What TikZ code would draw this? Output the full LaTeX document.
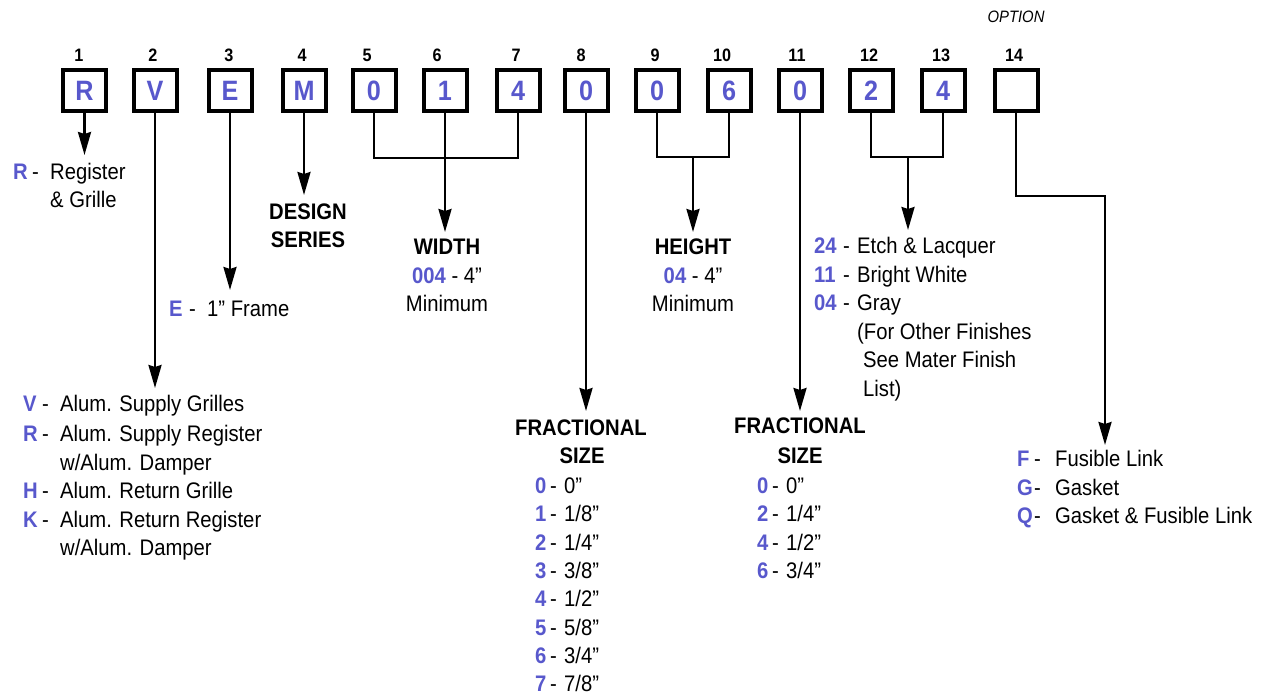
\documentclass[tikz,border=0pt]{standalone}
\usepackage{fontspec}
\setmainfont{Liberation Sans}[FakeStretch=0.9]
\usetikzlibrary{arrows.meta}
\definecolor{codeblue}{RGB}{88,88,204}
\newcommand\mainsz{\fontsize{22.5}{28}\selectfont}
\newcommand\cd[1]{\textcolor{codeblue}{\bfseries #1}}
\newcommand\itm[4]{\makebox[#1][l]{\cd{#2}}\makebox[#3][l]{-}#4}
\begin{document}
\begin{tikzpicture}[x=1pt,y=-1pt,
  txt/.style={font=\mainsz, inner sep=0pt, anchor=base west},
  ctxt/.style={font=\mainsz, inner sep=0pt, anchor=base},
  codebox/.style={draw, line width=4pt, minimum width=43pt, minimum height=41pt, inner sep=0pt,
    font=\fontsize{28}{30}\selectfont\bfseries, text=codeblue},
  numlbl/.style={font=\fontsize{18}{20}\selectfont\bfseries, inner sep=0pt, anchor=base},
  conn/.style={line width=2.5pt},
  arr/.style={line width=2.5pt, -{Stealth[length=23pt,width=13pt,inset=2pt]}}]
\useasboundingbox (0,0) rectangle (1265,698);

% option label
\node[font=\fontsize{16.5}{18}\selectfont\itshape, inner sep=0pt, anchor=base] (opt) at (1016,23) {OPTION};

% boxes
\node[codebox] (b1) at (84.5,90.5) {R};
\node[codebox] (b2) at (155,90.5) {V};
\node[codebox] (b3) at (230,90.5) {E};
\node[codebox] (b4) at (304,90.5) {M};
\node[codebox] (b5) at (374,90.5) {0};
\node[codebox] (b6) at (445,90.5) {1};
\node[codebox] (b7) at (518,90.5) {4};
\node[codebox] (b8) at (586,90.5) {0};
\node[codebox] (b9) at (657,90.5) {0};
\node[codebox] (b10) at (729,90.5) {6};
\node[codebox] (b11) at (800,90.5) {0};
\node[codebox] (b12) at (871,90.5) {2};
\node[codebox] (b13) at (943,90.5) {4};
\node[codebox] (b14) at (1016,90.5) {};

% position numbers
\node[numlbl] (n1) at (79,62) {1};
\node[numlbl] (n2) at (153,62) {2};
\node[numlbl] (n3) at (229,62) {3};
\node[numlbl] (n4) at (302,62) {4};
\node[numlbl] (n5) at (367,62) {5};
\node[numlbl] (n6) at (437,62) {6};
\node[numlbl] (n7) at (516,62) {7};
\node[numlbl] (n8) at (581,62) {8};
\node[numlbl] (n9) at (655,62) {9};
\node[numlbl] (n10) at (722,62) {10};
\node[numlbl] (n11) at (797,62) {11};
\node[numlbl] (n12) at (869,62) {12};
\node[numlbl] (n13) at (941,62) {13};
\node[numlbl] (n14) at (1014,62) {14};

% connector coordinates
\coordinate (t1) at (84.5,155);
\coordinate (t2) at (155,388);
\coordinate (t3) at (230,290);
\coordinate (t4) at (304,195);
\coordinate (j1) at (445,158);
\coordinate (t6) at (445,232);
\coordinate (t8) at (586,411);
\coordinate (j2) at (693,157);
\coordinate (t9) at (693,232);
\coordinate (t11) at (800,411);
\coordinate (j3) at (908,157);
\coordinate (t12) at (908,230);
\coordinate (c14) at (1105,196);
\coordinate (t14) at (1105,445);

% connectors
\draw[arr] (b1.south) -- (t1);
\draw[arr] (b2.south) -- (t2);
\draw[arr] (b3.south) -- (t3);
\draw[arr] (b4.south) -- (t4);
\draw[conn] (b5.south) |- (j1) -| (b7.south);
\draw[arr] (b6.south) -- (t6);
\draw[arr] (b8.south) -- (t8);
\draw[conn] (b9.south) |- (j2) -| (b10.south);
\draw[arr] (j2) -- (t9);
\draw[arr] (b11.south) -- (t11);
\draw[conn] (b12.south) |- (j3) -| (b13.south);
\draw[arr] (j3) -- (t12);
\draw[arr] (b14.south) |- (c14) -- (t14);

% texts: position 1
\node[txt] (r1) at (13,179) {\itm{19pt}{R}{18pt}{Register}};
\node[txt] (r2) at (50,207) {\& Grille};

% design series
\node[ctxt] (d1) at (308,219) {\bfseries DESIGN};
\node[ctxt] (d2) at (308,247) {\bfseries SERIES};

% frame
\node[txt] (e1) at (169,316) {\itm{20pt}{E}{18pt}{1” Frame}};

% grille types
\node[txt] (v1) at (23,411) {\itm{19pt}{V}{18pt}{Alum. Supply Grilles}};
\node[txt] (v2) at (23,441) {\itm{19pt}{R}{18pt}{Alum. Supply Register}};
\node[txt] (v3) at (60,470) {w/Alum. Damper};
\node[txt] (v4) at (23,498) {\itm{19pt}{H}{18pt}{Alum. Return Grille}};
\node[txt] (v5) at (23,527) {\itm{19pt}{K}{18pt}{Alum. Return Register}};
\node[txt] (v6) at (60,555) {w/Alum. Damper};

% width
\node[ctxt] (w1) at (447,254) {\bfseries WIDTH};
\node[ctxt] (w2) at (447,283) {\cd{004} - 4”};
\node[ctxt] (w3) at (447,311) {Minimum};

% height
\node[ctxt] (h1) at (693,254) {\bfseries HEIGHT};
\node[ctxt] (h2) at (693,283) {\cd{04} - 4”};
\node[ctxt] (h3) at (693,311) {Minimum};

% finish
\node[txt] (f1) at (814,253) {\itm{29pt}{24}{14pt}{Etch \& Lacquer}};
\node[txt] (f2) at (814,282) {\itm{29pt}{11}{14pt}{Bright White}};
\node[txt] (f3) at (814,310) {\itm{29pt}{04}{14pt}{Gray}};
\node[txt] (f4) at (857,339) {(For Other Finishes};
\node[txt] (f5) at (863,367) {See Mater Finish};
\node[txt] (f6) at (863,396) {List)};

% fractional size (width)
\node[ctxt] (fa) at (581,435) {\bfseries FRACTIONAL};
\node[ctxt] (fb) at (582,463) {\bfseries SIZE};
\node[txt] (fw0) at (535,493) {\itm{15pt}{0}{14pt}{0”}};
\node[txt] (fw1) at (535,521) {\itm{15pt}{1}{14pt}{1/8”}};
\node[txt] (fw2) at (535,550) {\itm{15pt}{2}{14pt}{1/4”}};
\node[txt] (fw3) at (535,578) {\itm{15pt}{3}{14pt}{3/8”}};
\node[txt] (fw4) at (535,606) {\itm{15pt}{4}{14pt}{1/2”}};
\node[txt] (fw5) at (535,635) {\itm{15pt}{5}{14pt}{5/8”}};
\node[txt] (fw6) at (535,663) {\itm{15pt}{6}{14pt}{3/4”}};
\node[txt] (fw7) at (535,691) {\itm{15pt}{7}{14pt}{7/8”}};

% fractional size (height)
\node[ctxt] (ga) at (800,433) {\bfseries FRACTIONAL};
\node[ctxt] (gb) at (800,463) {\bfseries SIZE};
\node[txt] (fh0) at (757,493) {\itm{15pt}{0}{14pt}{0”}};
\node[txt] (fh2) at (757,521) {\itm{15pt}{2}{14pt}{1/4”}};
\node[txt] (fh4) at (757,550) {\itm{15pt}{4}{14pt}{1/2”}};
\node[txt] (fh6) at (757,578) {\itm{15pt}{6}{14pt}{3/4”}};

% option
\node[txt] (o1) at (1017,466) {\itm{17pt}{F}{21pt}{Fusible Link}};
\node[txt] (o2) at (1017,495) {\itm{17pt}{G}{21pt}{Gasket}};
\node[txt] (o3) at (1017,523) {\itm{17pt}{Q}{21pt}{Gasket \& Fusible Link}};
\end{tikzpicture}
\end{document}
